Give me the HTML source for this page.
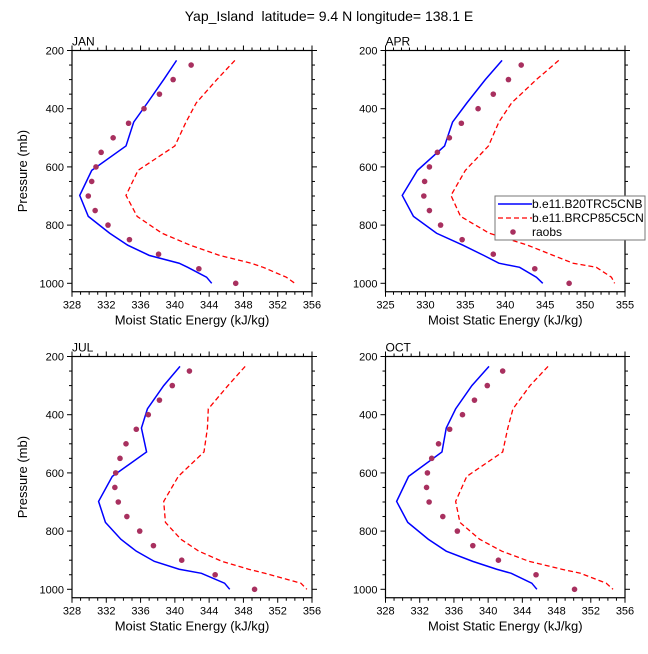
<!DOCTYPE html>
<html><head><meta charset="utf-8"><style>
html,body{margin:0;padding:0;background:#fff;}
svg text{font-family:"Liberation Sans",sans-serif;fill:#000;}
</style></head><body>
<svg id="chart" width="648" height="649" xmlns="http://www.w3.org/2000/svg">
<text x="329" y="21" font-size="14" text-anchor="middle">Yap_Island&#160; latitude= 9.4 N longitude= 138.1 E</text>
</svg>
<script>
const modelLevels=[234,300,380,446,528,612,698,770,828,869,904,931,945,979,1000];
const raobLevels=[250,300,350,400,450,500,550,600,650,700,750,800,850,900,950,1000];
const panelNames=["JAN","APR","JUL","OCT"];
const histJAN=[340.2,338.7,336.8,335.2,334.3,330.3,328.9,329.9,332.4,334.5,337.0,340.5,341.5,343.7,344.3];
const futJAN=[347.0,344.9,342.5,341.3,340.0,335.7,334.3,335.6,338.5,341.8,345.2,348.9,350.3,353.0,354.0];
const obsJAN=[341.9,339.8,338.2,336.4,334.6,332.8,331.4,330.8,330.3,329.9,330.7,332.2,334.7,338.1,342.8,347.1];
const histAPR=[339.6,337.5,335.2,333.4,332.4,329.0,327.1,328.5,331.4,334.7,337.3,339.2,341.8,343.9,344.7];
const futAPR=[346.7,343.9,340.8,339.2,337.9,335.0,333.2,334.4,338.0,342.8,346.0,348.5,351.4,353.3,353.7];
const obsAPR=[342.0,340.4,338.5,336.6,334.5,333.0,331.5,330.5,329.9,329.8,330.5,331.9,334.6,338.5,343.7,348.0];
const histJUL=[340.6,338.7,336.8,336.1,336.7,332.7,331.1,331.9,333.7,335.5,337.6,340.5,343.1,345.8,346.4];
const futJUL=[348.2,346.2,343.9,343.8,343.4,340.4,338.7,338.9,340.7,342.8,345.5,348.6,350.5,354.7,355.4];
const obsJUL=[341.7,339.7,338.2,336.9,335.5,334.3,333.6,333.1,333.0,333.4,334.4,335.9,337.5,340.8,344.7,349.3];
const histOCT=[340.1,338.1,336.2,335.1,334.6,330.7,329.3,330.6,333.0,335.1,338.2,341.0,342.7,345.1,345.7];
const futOCT=[347.0,344.9,342.9,342.3,341.7,337.5,336.2,336.7,339.0,341.6,344.8,348.6,350.8,353.8,354.6];
const obsOCT=[341.7,339.9,338.4,337.0,335.5,334.2,333.4,332.9,332.8,333.1,334.7,336.4,338.2,341.2,345.6,350.1];
const xTicksA=[328,332,336,340,344,348,352,356];
const xTicksB=[325,330,335,340,345,350,355];
const yTicks=[200,400,600,800,1000];
const legendLabels=["b.e11.B20TRC5CNB","b.e11.BRCP85C5CN","raobs"];

const svg=document.getElementById('chart');
const NS="http://www.w3.org/2000/svg";
function mk(tag,attrs,parent){const e=document.createElementNS(NS,tag);for(const k in attrs)e.setAttribute(k,attrs[k]);(parent||svg).appendChild(e);return e;}

const panels=[
 {name:panelNames[0],x0:72,x1:312,y0:50.5,hist:histJAN,fut:futJAN,obs:obsJAN,xmin:328,xmax:356,ticks:xTicksA,minor:1},
 {name:panelNames[1],x0:385.5,x1:625,y0:50.5,hist:histAPR,fut:futAPR,obs:obsAPR,xmin:325,xmax:355,ticks:xTicksB,minor:1},
 {name:panelNames[2],x0:72,x1:312,y0:356.5,hist:histJUL,fut:futJUL,obs:obsJUL,xmin:328,xmax:356,ticks:xTicksA,minor:1},
 {name:panelNames[3],x0:385.5,x1:625,y0:356.5,hist:histOCT,fut:futOCT,obs:obsOCT,xmin:328,xmax:356,ticks:xTicksA,minor:1}
];
const pTop=200,pBot=1029,pxPer=232.8/800;
panels.forEach(P=>{
 const g=mk('g',{});
 
 
 const yb=P.y0+(pBot-pTop)*pxPer;
 const X=v=>P.x0+(v-P.xmin)/(P.xmax-P.xmin)*(P.x1-P.x0);
 const Y=p=>P.y0+(p-pTop)*pxPer;
 const tg=mk('g',{stroke:'#000','stroke-width':1},g);
 for(let v=P.xmin;v<=P.xmax+1e-6;v+=P.minor){
  const maj=P.ticks.includes(v);const L=maj?5:3;const x=X(v);
  mk('line',{x1:x,x2:x,y1:yb,y2:yb+L},tg);
  mk('line',{x1:x,x2:x,y1:P.y0,y2:P.y0-L},tg);
 }
 for(let p=200;p<=1000;p+=50){
  const maj=yTicks.includes(p);const L=maj?5:3;const y=Y(p);
  mk('line',{x1:P.x0,x2:P.x0-L,y1:y,y2:y},tg);
  mk('line',{x1:P.x1,x2:P.x1+L,y1:y,y2:y},tg);
 }
 P.ticks.forEach(v=>{const t=mk('text',{x:X(v),y:yb+17,'font-size':11,'text-anchor':'middle'},g);t.textContent=v;
  
  });
 yTicks.forEach(p=>{const t=mk('text',{x:P.x0-8,y:Y(p)+4,'font-size':11,'text-anchor':'end'},g);t.textContent=p;
  
  });
 const box=mk('rect',{x:P.x0,y:P.y0,width:P.x1-P.x0,height:yb-P.y0,fill:'none',stroke:'#000','stroke-width':1.2},g);
 
 
 const lab=mk('text',{x:P.x0,y:P.y0-5,'font-size':12},g);lab.textContent=P.name;
 
 
 const xt=mk('text',{x:(P.x0+P.x1)/2,y:yb+33,'font-size':13,'text-anchor':'middle'},g);xt.textContent='Moist Static Energy (kJ/kg)';
 
 
 if(P.x0<100){const cy=(P.y0+yb)/2;const yt=mk('text',{x:27,y:cy,'font-size':13,'text-anchor':'middle',transform:`rotate(-90 27 ${cy})`},g);yt.textContent='Pressure (mb)';
  
  }
 const h=mk('polyline',{points:P.hist.map((v,i)=>X(v)+','+Y(modelLevels[i])).join(' '),fill:'none',stroke:'#0000ff','stroke-width':1.5},g);
 
 
 const f=mk('polyline',{points:P.fut.map((v,i)=>X(v)+','+Y(modelLevels[i])).join(' '),fill:'none',stroke:'#ff0000','stroke-width':1.3,'stroke-dasharray':'5,3'},g);
 
 
 P.obs.forEach((v,i)=>{const c=mk('circle',{cx:X(v),cy:Y(raobLevels[i]),r:2.8,fill:'#a8305f'},g);
  
  });
});
const lg=mk('g',{});


mk('rect',{x:495,y:196,width:150,height:44,fill:'#fff',stroke:'#777','stroke-width':1},lg);
const rows=[204,218,232];
legendLabels.forEach((s,i)=>{
 const y=rows[i];
 if(i===0)mk('line',{x1:498,x2:532,y1:y,y2:y,stroke:'#0000ff','stroke-width':1.5},lg);
 if(i===1)mk('line',{x1:498,x2:532,y1:y,y2:y,stroke:'#ff0000','stroke-width':1.3,'stroke-dasharray':'5,3'},lg);
 if(i===2)mk('circle',{cx:513,cy:y,r:2.8,fill:'#a8305f'},lg);
 const t=mk('text',{x:532,y:y+4,'font-size':12},lg);t.textContent=s;
 
 
});
</script>
</body></html>
